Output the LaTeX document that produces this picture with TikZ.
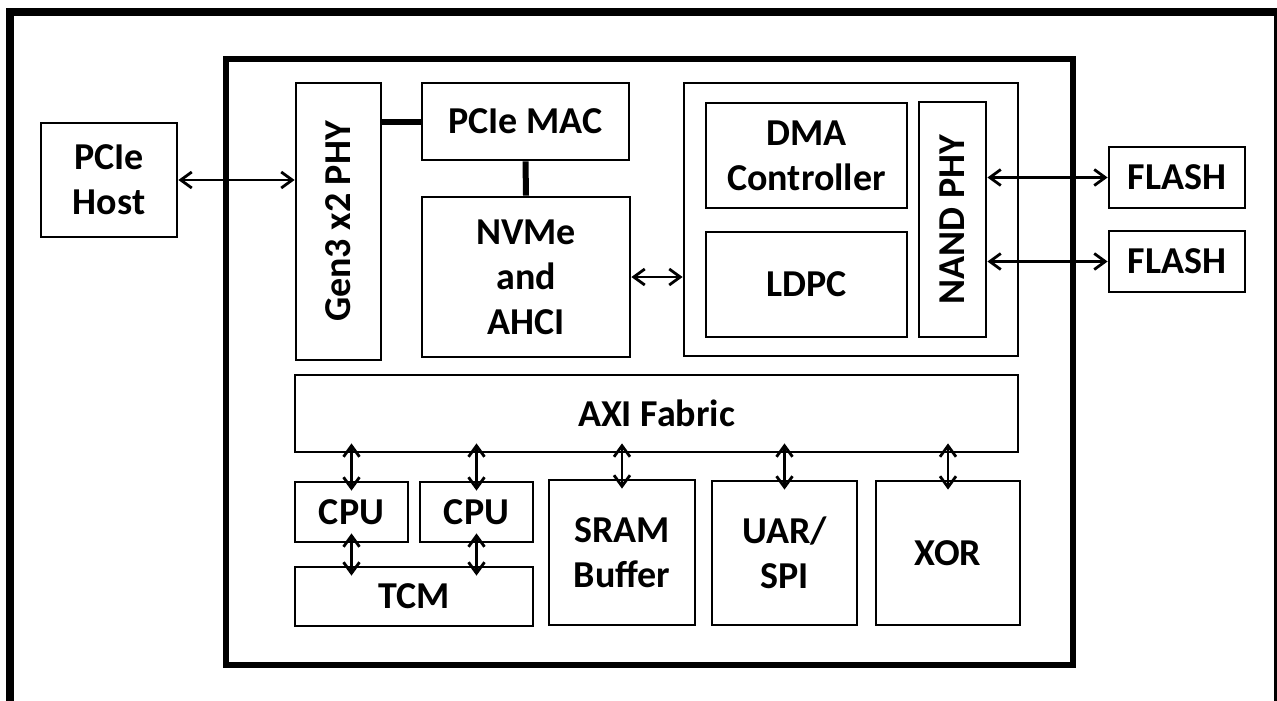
\documentclass[tikz,border=0pt]{standalone}
\usepackage{fontspec}
\setmainfont{Carlito}
\usetikzlibrary{arrows.meta,positioning,calc}

\begin{document}
\begin{tikzpicture}[
    x=1pt, y=-1pt,
    font=\bfseries\fontsize{38}{45}\selectfont,
    box/.style={rectangle, draw=black, line width=2.8pt, inner sep=0pt, align=center},
    vbox/.style={box, rotate=90},
    chipbox/.style={rectangle, draw=black, line width=6pt},
    link/.style={line width=6pt},
    arrow/.style={{Straight Barb[length=11pt,width=16pt]}-{Straight Barb[length=11pt,width=16pt]}, line width=2.8pt},
    busarrow/.style={arrow, shorten <=-10pt, shorten >=-10pt},
]
\useasboundingbox (0,0) rectangle (1277,701);

% Page frame (open at the bottom)
\draw[line width=7.5pt] (10,720) -- (10,12) -- (1278,12) -- (1278,720);

% Host
\node[box, minimum width=136pt, minimum height=114pt] (host) at (109,180) {PCIe\\Host};

% Controller chip
\node[chipbox, minimum width=847pt, minimum height=606pt] (chip) at (649.5,362) {};

% PCIe front end
\node[vbox, minimum width=277pt, minimum height=85pt] (phy) at (338.5,221.5) {Gen3 x2 PHY};
\node[box, minimum width=207pt, minimum height=77pt] (mac) at (525.5,121.5) {PCIe MAC};
\node[box, minimum width=208pt, minimum height=160pt] (nvme) at (526,277) {NVMe\\and\\AHCI};

% Flash back end
\node[box, minimum width=334pt, minimum height=273pt] (nandctl) at (851,219.5) {};
\node[box, minimum width=201pt, minimum height=105pt] (dma) at (806.5,155.5) {DMA\\Controller};
\node[box, minimum width=201pt, minimum height=105pt] (ldpc) at (806.5,284.5) {LDPC};
\node[vbox, minimum width=235pt, minimum height=67pt] (nandphy) at (952.5,219.5) {NAND PHY};
\node[box, minimum width=136pt, minimum height=61pt] (flasha) at (1177,177.5) {FLASH};
\node[box, minimum width=136pt, minimum height=61pt] (flashb) at (1177,261.5) {FLASH};

% Fabric and peripherals
\node[box, minimum width=723pt, minimum height=77pt] (axi) at (656.5,413.5) {AXI Fabric};
\node[box, minimum width=113pt, minimum height=60pt] (cpua) at (351.5,512) {CPU};
\node[box, minimum width=113pt, minimum height=60pt] (cpub) at (476.5,512) {CPU};
\node[box, minimum width=238pt, minimum height=59pt] (tcm) at (414,596.5) {TCM};
\node[box, minimum width=146pt, minimum height=145pt] (sram) at (622,552.5) {SRAM\\Buffer};
\node[box, minimum width=145pt, minimum height=144pt] (uart) at (784.5,553) {UAR/\\SPI};
\node[box, minimum width=144pt, minimum height=144pt] (xor) at (948,553) {XOR};

% Links
\draw[arrow] (host.east) -- (host.east -| phy.north);
\draw[link] (mac.west) -- (mac.west -| phy.south);
\draw[link] (mac.south) -- (nvme.north);
\draw[arrow] (nvme.east) -- (nvme.east -| nandctl.west);
\draw[arrow] (flasha.west -| nandphy.south) -- (flasha.west);
\draw[arrow] (flashb.west -| nandphy.south) -- (flashb.west);
\foreach \n in {cpua,cpub,sram,uart,xor}
    \draw[busarrow] (\n.north |- axi.south) -- (\n.north);
\draw[busarrow] (cpua.south) -- (cpua.south |- tcm.north);
\draw[busarrow] (cpub.south) -- (cpub.south |- tcm.north);

\end{tikzpicture}
\end{document}
